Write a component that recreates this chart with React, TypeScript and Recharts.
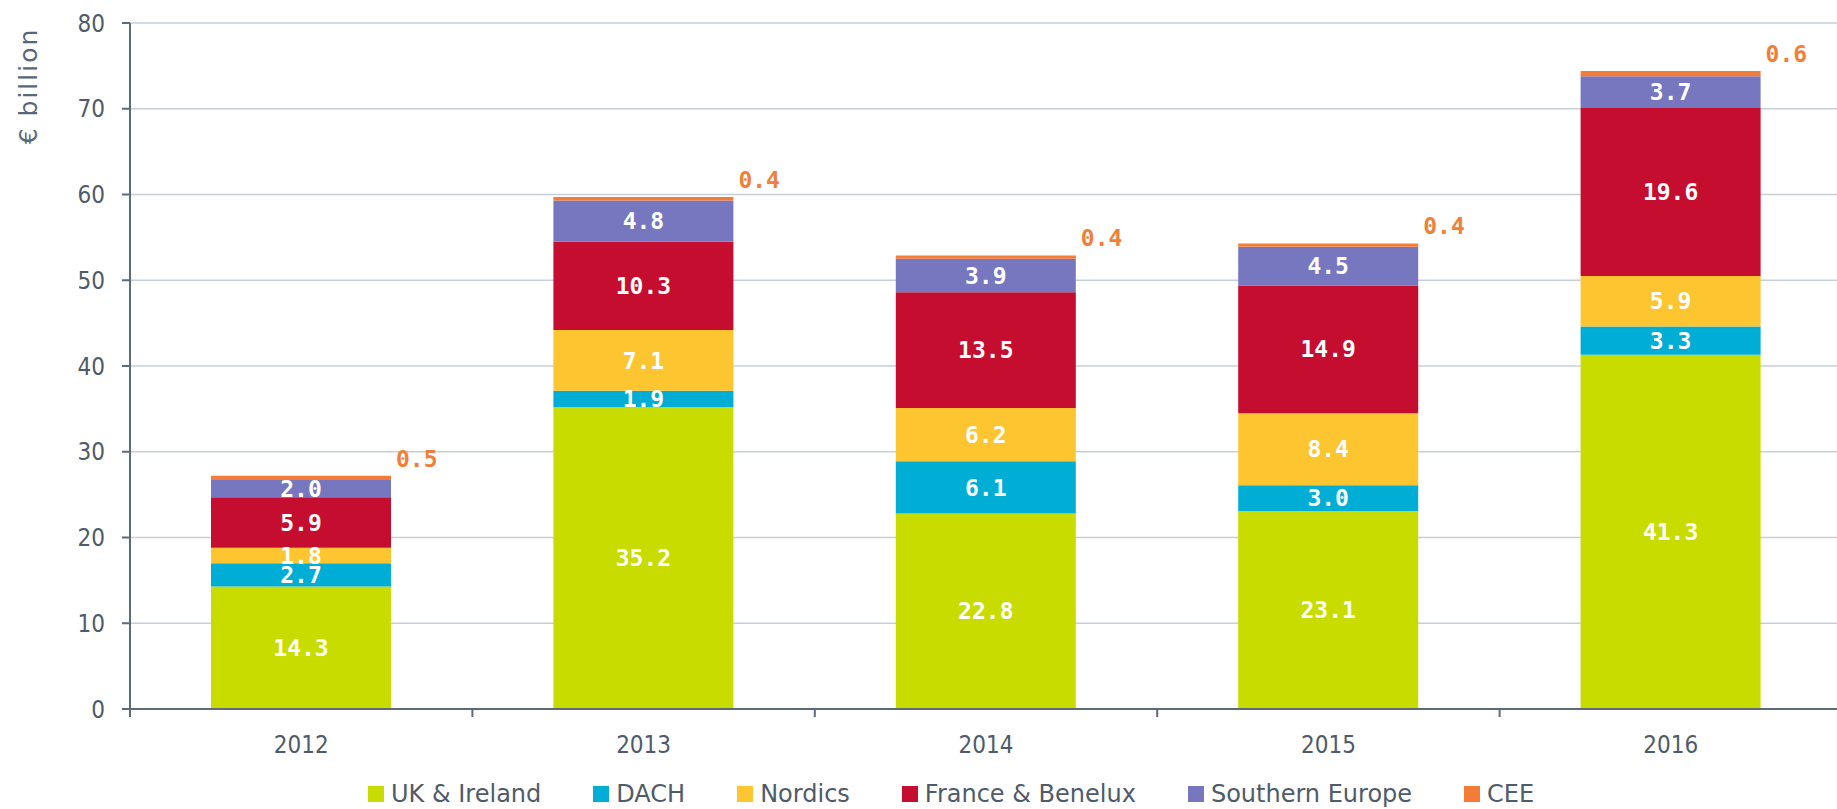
import React from "react";
import { BarChart, Bar, XAxis, YAxis, CartesianGrid, Legend, LabelList } from "recharts";

const years = ["2012", "2013", "2014", "2015", "2016"];
const ukIreland = [14.3, 35.2, 22.8, 23.1, 41.3];
const dach = [2.7, 1.9, 6.1, 3.0, 3.3];
const nordics = [1.8, 7.1, 6.2, 8.4, 5.9];
const franceBenelux = [5.9, 10.3, 13.5, 14.9, 19.6];
const southernEurope = [2.0, 4.8, 3.9, 4.5, 3.7];
const cee = [0.5, 0.4, 0.4, 0.4, 0.6];
const yTicks = [0, 10, 20, 30, 40, 50, 60, 70, 80];

const series = [
  { key: "uk", name: "UK & Ireland", values: ukIreland, color: "#c8dc00" },
  { key: "dach", name: "DACH", values: dach, color: "#00aed5" },
  { key: "nordics", name: "Nordics", values: nordics, color: "#fdc52f" },
  { key: "fb", name: "France & Benelux", values: franceBenelux, color: "#c50d2f" },
  { key: "se", name: "Southern Europe", values: southernEurope, color: "#7777c0" },
  { key: "cee", name: "CEE", values: cee, color: "#f27c38" },
];

const data = years.map((year, i) => {
  const row: Record<string, string | number> = { year };
  series.forEach((s) => (row[s.key] = s.values[i]));
  return row;
});

const SANS = '"DejaVu Sans Condensed", "DejaVu Sans", sans-serif';
const SANS_WIDE = '"DejaVu Sans", sans-serif';
const MONO = '"DejaVu Sans Mono", monospace';
const TEXT = "#4e5b69";
const AXIS = "#5d6a77";

const fmt = (v: any) => Number(v).toFixed(1);

// label under each bar, plus a small tick at the left edge of its band
function YearTick(props: any) {
  const { x, y, payload } = props;
  const half = payload?.offset ?? 171;
  return (
    <g>
      <line x1={x - half} x2={x - half} y1={y} y2={y + 8} stroke={AXIS} strokeWidth={2} />
      <text x={x} y={y + 44} textAnchor="middle" fill={TEXT} fontSize={24} fontFamily={SANS}>
        {payload.value}
      </text>
    </g>
  );
}

function YLabel(props: any) {
  const vb = props.viewBox || { x: 0, y: 23 };
  const cx = vb.x + 37;
  const cy = vb.y + 63;
  return (
    <text
      x={cx}
      y={cy}
      transform={`rotate(-90, ${cx}, ${cy})`}
      textAnchor="middle"
      fill="#56677a"
      fontSize={25}
      letterSpacing={2}
      fontFamily={SANS_WIDE}
    >
      € billion
    </text>
  );
}

function CeeLabel(props: any) {
  const { x, y, width, value } = props;
  return (
    <text x={Number(x) + Number(width) + 5} y={Number(y) - 9} fill="#f07f3a" fontSize={23} fontWeight="bold" fontFamily={MONO}>
      {fmt(value)}
    </text>
  );
}

function LegendContent() {
  return (
    <div
      style={{
        display: "flex",
        alignItems: "center",
        height: 30,
        paddingLeft: 368,
        fontFamily: SANS_WIDE,
        fontSize: 24,
        color: TEXT,
        whiteSpace: "nowrap",
      }}
    >
      {series.map((s) => (
        <div key={s.key} style={{ display: "flex", alignItems: "center", marginRight: 52 }}>
          <span style={{ display: "inline-block", width: 16, height: 16, background: s.color, marginRight: 7 }} />
          <span>{s.name}</span>
        </div>
      ))}
    </div>
  );
}

export default function App() {
  return (
    <div style={{ position: "absolute", left: 0, top: 0, width: 1837, height: 809, overflow: "hidden", background: "#fff" }}>
      <BarChart width={1842} height={809} data={data} margin={{ top: 23, right: 0, left: 0, bottom: 0 }}>
        <CartesianGrid vertical={false} stroke="#c6cfd7" strokeWidth={1.5} />
        <XAxis
          dataKey="year"
          height={70}
          tickLine={false}
          tickSize={0}
          tickMargin={0}
          axisLine={{ stroke: AXIS, strokeWidth: 2 }}
          tick={<YearTick />}
          interval={0}
        />
        <YAxis
          width={130}
          domain={[0, 80]}
          ticks={yTicks}
          tickSize={8}
          tickMargin={17}
          tickLine={{ stroke: AXIS, strokeWidth: 2 }}
          axisLine={{ stroke: AXIS, strokeWidth: 2 }}
          tick={{ fill: TEXT, fontSize: 24, fontFamily: SANS }}
          label={<YLabel />}
        />
        <Legend verticalAlign="bottom" align="left" content={<LegendContent />} />
        {series.map((s) => (
          <Bar key={s.key} dataKey={s.key} name={s.name} stackId="a" fill={s.color} barSize={180} isAnimationActive={false}>
            {s.key === "cee" ? (
              <LabelList dataKey={s.key} content={<CeeLabel />} />
            ) : (
              <LabelList
                dataKey={s.key}
                position="center"
                formatter={fmt}
                fill="#ffffff"
                fontSize={23}
                fontWeight="bold"
                fontFamily={MONO}
              />
            )}
          </Bar>
        ))}
      </BarChart>
    </div>
  );
}
